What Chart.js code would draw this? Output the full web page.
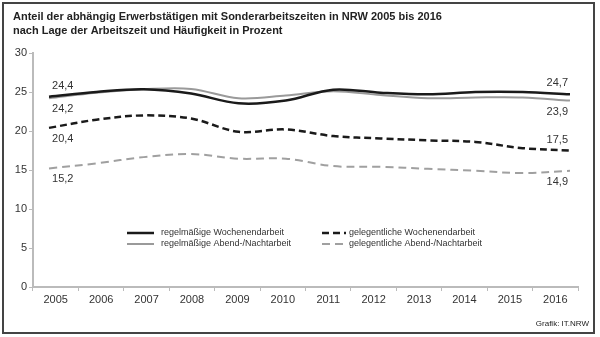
<!DOCTYPE html>
<html lang="de">
<head>
<meta charset="UTF-8">
<title>Sonderarbeitszeiten NRW 2005 bis 2016</title>
<script src="https://cdn.jsdelivr.net/npm/chart.js"></script>
<style>
  body { margin: 0; background: #fff; }
  canvas { display: block; }
</style>
</head>
<body>
<canvas id="chart" width="600" height="337"></canvas>
<script>
// Daten
const years = [2005, 2006, 2007, 2008, 2009, 2010, 2011, 2012, 2013, 2014, 2015, 2016];
const regWochenende = [24.4, 25.0, 25.35, 24.8, 23.55, 23.9, 25.3, 24.9, 24.7, 25.0, 25.0, 24.7];
const regAbendNacht = [24.2, 24.9, 25.35, 25.4, 24.2, 24.55, 25.1, 24.6, 24.2, 24.3, 24.3, 23.9];
const gelWochenende = [20.4, 21.45, 22.0, 21.6, 19.9, 20.2, 19.35, 19.05, 18.8, 18.6, 17.8, 17.5];
const gelAbendNacht = [15.2, 15.85, 16.65, 17.05, 16.45, 16.45, 15.5, 15.4, 15.15, 14.9, 14.6, 14.9];
const yTicks = [0, 5, 10, 15, 20, 25, 30];

const FONT = '"Liberation Sans", Arial, sans-serif';
const toPoints = arr => arr.map((v, i) => ({ x: years[i], y: v }));

// Rahmen, Titel, Quelle
const framePlugin = {
    id: 'framePlugin',
    beforeDraw: (chart) => {
        const ctx = chart.ctx;
        ctx.save();
        ctx.fillStyle = '#fff';
        ctx.fillRect(0, 0, chart.width, chart.height);
        ctx.strokeStyle = '#444';
        ctx.lineWidth = 2;
        ctx.strokeRect(3, 3, 591, 330);
        ctx.fillStyle = '#222';
        ctx.font = 'bold 11px ' + FONT;
        ctx.textBaseline = 'middle';
        ctx.fillText('Anteil der abhängig Erwerbstätigen mit Sonderarbeitszeiten in NRW 2005 bis 2016', 13, 17);
        ctx.fillText('nach Lage der Arbeitszeit und Häufigkeit in Prozent', 13, 31);
        ctx.font = '8px ' + FONT;
        ctx.textAlign = 'right';
        ctx.fillText('Grafik: IT.NRW', 589, 324);
        ctx.restore();
    }
};

// Legende im Diagramm
const legendPlugin = {
    id: 'legendPlugin',
    afterDraw: (chart) => {
        const ctx = chart.ctx;
        const slots = [[127, 233], [127, 244], [322, 233], [322, 244]];
        ctx.save();
        ctx.font = '9px ' + FONT;
        ctx.textBaseline = 'middle';
        chart.data.datasets.forEach((ds, i) => {
            const [x, y] = slots[i];
            ctx.strokeStyle = ds.borderColor;
            ctx.lineWidth = ds.borderWidth;
            ctx.setLineDash(ds.borderDash || []);
            ctx.beginPath();
            ctx.moveTo(x, y);
            ctx.lineTo(x + (ds.borderDash ? 24 : 27), y);
            ctx.stroke();
            ctx.setLineDash([]);
            ctx.fillStyle = '#333';
            ctx.fillText(ds.label, x + (ds.borderDash ? 27 : 34), y);
        });
        ctx.restore();
    }
};

// Werte am Anfang und Ende der Linien
const endLabelPlugin = {
    id: 'endLabelPlugin',
    afterDatasetsDraw: (chart) => {
        const ctx = chart.ctx;
        const place = [[-1, -1], [1, 1], [1, -1], [1, 1]]; // -1 = oberhalb, 1 = unterhalb
        ctx.save();
        ctx.font = '11px ' + FONT;
        ctx.fillStyle = '#333';
        ctx.textBaseline = 'middle';
        chart.data.datasets.forEach((ds, i) => {
            const pts = chart.getDatasetMeta(i).data;
            const first = pts[0], last = pts[pts.length - 1];
            const fmt = v => v.toFixed(1).replace('.', ',');
            ctx.textAlign = 'left';
            ctx.fillText(fmt(ds.data[0].y), first.x + 3, first.y + place[i][0] * 11);
            ctx.textAlign = 'right';
            ctx.fillText(fmt(ds.data[ds.data.length - 1].y), last.x - 2, last.y + place[i][1] * 11);
        });
        ctx.restore();
    }
};

new Chart(document.getElementById('chart'), {
    type: 'line',
    data: {
        labels: years,
        datasets: [
            { label: 'regelmäßige Wochenendarbeit', data: toPoints(regWochenende),
              borderColor: '#1a1a1a', borderWidth: 2.5 },
            { label: 'regelmäßige Abend-/Nachtarbeit', data: toPoints(regAbendNacht),
              borderColor: '#9a9a9a', borderWidth: 2 },
            { label: 'gelegentliche Wochenendarbeit', data: toPoints(gelWochenende),
              borderColor: '#1a1a1a', borderWidth: 2.5, borderDash: [7, 4] },
            { label: 'gelegentliche Abend-/Nachtarbeit', data: toPoints(gelAbendNacht),
              borderColor: '#a0a0a0', borderWidth: 2, borderDash: [8, 5] }
        ].map(d => Object.assign(d, { xAxisID: 'xd', tension: 0.35, pointRadius: 0, fill: false }))
    },
    options: {
        responsive: false,
        animation: false,
        layout: { padding: { top: 53, left: 0, right: 22, bottom: 0 } },
        scales: {
            x: {
                type: 'category',
                offset: true,
                grid: { drawOnChartArea: false, drawTicks: true, tickLength: 4, color: '#bbb', offset: true },
                border: { color: '#bbb', width: 2 },
                ticks: { color: '#333', font: { family: FONT, size: 11 }, padding: 2 },
                afterFit: s => { s.height = 50; }
            },
            xd: {
                type: 'linear',
                display: false,
                min: 2004.662,
                max: 2016.169
            },
            y: {
                min: 0,
                max: 30,
                afterBuildTicks: s => { s.ticks = yTicks.map(v => ({ value: v })); },
                grid: { drawOnChartArea: false, drawTicks: true, tickLength: 4, color: '#bbb' },
                border: { color: '#bbb', width: 2 },
                ticks: { color: '#333', font: { family: FONT, size: 11 }, padding: 2 },
                afterFit: s => { s.width = 33; }
            }
        },
        plugins: {
            legend: { display: false },
            tooltip: { enabled: false }
        }
    },
    plugins: [framePlugin, legendPlugin, endLabelPlugin]
});
</script>
</body>
</html>
